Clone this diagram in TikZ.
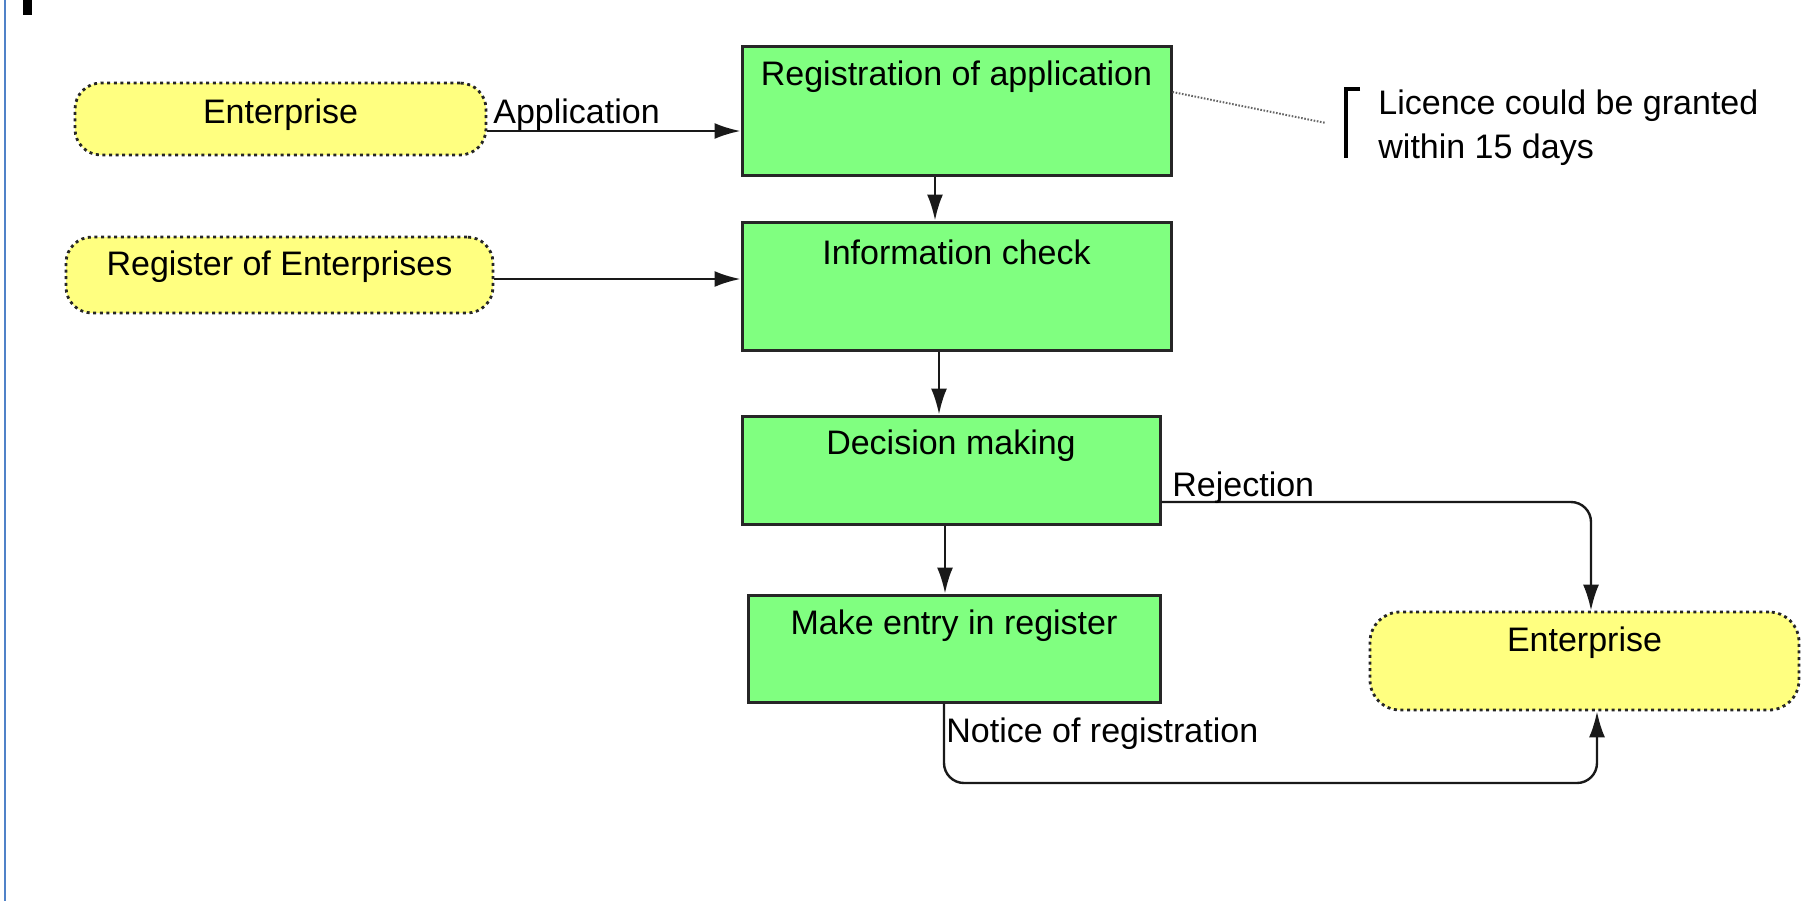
\documentclass[tikz,border=0pt]{standalone}
\usepackage{fontspec}
\setmainfont{Liberation Sans}
\usetikzlibrary{arrows.meta,calc}
\definecolor{procgreen}{RGB}{128,255,128}
\definecolor{extyellow}{RGB}{255,255,128}
\definecolor{frameblue}{RGB}{80,130,200}
\tikzset{
 proc/.style={draw=black!85, line width=1.5pt, fill=procgreen, inner sep=0pt},
 ext/.style={draw=black!85, line width=1.4pt, dash pattern=on 1.5pt off 1.8pt, fill=extyellow, rounded corners=13pt, inner sep=0pt},
 txt/.style={font=\fontsize{17}{22}\selectfont, inner sep=0pt, text=black},
 flow/.style={draw=black!90, line width=1.2pt, -{Latex[length=13pt,width=8pt]}},
 notelink/.style={draw=black!60, line width=1pt, dash pattern=on 0.8pt off 0.8pt},
}
\begin{document}
\begin{tikzpicture}[x=0.5pt,y=-0.5pt]
\useasboundingbox (0,0) rectangle (1805,901);
% frame decorations
\draw[frameblue, line width=1.2pt] (5,0) -- (5,901);
\fill[black] (23,0) rectangle (32,15);

% process boxes
\node[proc, minimum width=214.5pt, minimum height=64.5pt] (reg) at (956.5,110.5) {};
\node[txt] (regT) at ([yshift=-16pt]reg.north) {Registration of application};
\node[proc, minimum width=214.5pt, minimum height=64pt] (info) at (956.5,286) {};
\node[txt] (infoT) at ([yshift=-16pt]info.north) {Information check};
\node[proc, minimum width=209pt, minimum height=54pt] (dec) at (951,470) {};
\node[txt] (decT) at ([yshift=-15.5pt]dec.north) {Decision making};
\node[proc, minimum width=206pt, minimum height=53.5pt] (make) at (954,648.5) {};
\node[txt] (makeT) at ([yshift=-16pt]make.north) {Make entry in register};

% external entities
\node[ext, minimum width=205.5pt, minimum height=36pt] (ent1) at (280.5,119) {};
\node[txt] (ent1T) at ([yshift=-16.5pt]ent1.north) {Enterprise};
\node[ext, minimum width=213.5pt, minimum height=38pt] (roe) at (279.5,275) {};
\node[txt] (roeT) at ([yshift=-15.5pt]roe.north) {Register of Enterprises};
\node[ext, minimum width=214.5pt, minimum height=49pt, rounded corners=15pt] (ent2) at (1584.5,661) {};
\node[txt] (ent2T) at ([yshift=-16pt]ent2.north) {Enterprise};

% note
\node[txt, anchor=north west, align=left] (note) at (1378,89) {Licence could be granted\\within 15 days};
\draw[line width=1.8pt] ([xshift=-9pt]note.north west) -- ([xshift=-16pt]note.north west) -- ([xshift=-16pt,yshift=-34.5pt]note.north west);
\coordinate (regN) at ([yshift=9.25pt]reg.east);
\coordinate (noteN) at (1326,123);
\draw[notelink] (regN) -- (noteN);

% flows
\coordinate (a1) at ([yshift=-6pt]ent1.east);
\draw[flow] (a1) -- (a1 -| reg.west);
\node[txt, anchor=west] (lapp) at (493,115) {Application};

\coordinate (a2) at ([yshift=-2pt]roe.east);
\draw[flow] (a2) -- (a2 -| info.west);

\coordinate (a3) at ([xshift=-10.75pt]reg.south);
\draw[flow] (a3) -- (a3 |- info.north);
\coordinate (a4) at ([xshift=-8.75pt]info.south);
\draw[flow] (a4) -- (a4 |- dec.north);
\coordinate (a5) at ([xshift=-3pt]dec.south);
\draw[flow] (a5) -- (a5 |- make.north);

\coordinate (rA) at ([yshift=-16pt]dec.east);
\coordinate (rB) at ([xshift=3.25pt]ent2.north);
\draw[flow, rounded corners=10pt] (rA) -| (rB);
\node[txt, anchor=west] (lrej) at (1172,488) {Rejection};

\coordinate (nA) at ([xshift=-5pt]make.south);
\coordinate (nB) at ([xshift=6.25pt]ent2.south);
\coordinate (nlow) at (0,783);
\draw[flow, rounded corners=10pt] (nA) -- (nA |- nlow) -- (nB |- nlow) -- (nB);
\node[txt, anchor=west] (lnot) at (946,734) {Notice of registration};
\end{tikzpicture}
\end{document}
